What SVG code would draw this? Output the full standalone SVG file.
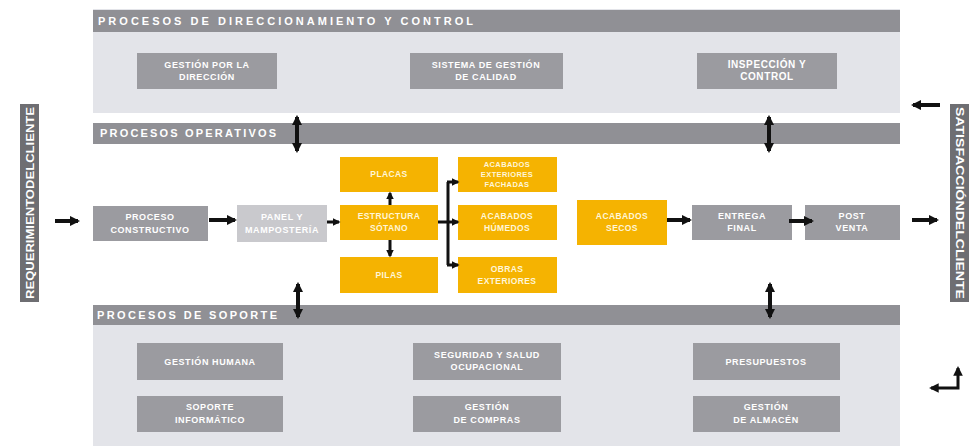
<svg xmlns="http://www.w3.org/2000/svg" width="977" height="446" viewBox="0 0 977 446">
<style>
.panel{fill:#e3e4e9}
.bar{fill:#909095}
.box{fill:#9b9ba0}
.lbox{fill:#c9c9cd}
.obox{fill:#f5b301}
.vbar{fill:#6e6e72}
.ht{font-family:"Liberation Sans",Arial,sans-serif;font-size:11px;font-weight:bold;fill:#ffffff}
.t{font-family:"Liberation Sans",Arial,sans-serif;font-size:9px;font-weight:bold;fill:#ffffff;text-anchor:middle;letter-spacing:0.6px}
.ot{font-family:"Liberation Sans",Arial,sans-serif;font-size:8.5px;font-weight:bold;fill:#fff6d8;text-anchor:middle;letter-spacing:0.4px}
.vt{font-family:"Liberation Sans",Arial,sans-serif;font-size:10px;font-weight:bold;fill:#ffffff;text-anchor:middle}
.ln{stroke:#111;stroke-width:4;fill:none}
.ln2{stroke:#111;stroke-width:3;fill:none}
</style>
<defs>
<marker id="ah" viewBox="0 0 10 10" refX="8" refY="5" markerWidth="2.6" markerHeight="2.6" orient="auto-start-reverse">
<path d="M0,0 L10,5 L0,10 z" fill="#111"/>
</marker>
<marker id="ah2" viewBox="0 0 10 10" refX="8" refY="5" markerWidth="3.2" markerHeight="3.2" orient="auto-start-reverse">
<path d="M0,0 L10,5 L0,10 z" fill="#111"/>
</marker>
</defs>
<rect width="977" height="446" fill="#ffffff"/>

<g id="direccionamiento">
<rect class="panel" x="93" y="9" width="807" height="104"/>
<rect class="bar" x="93" y="10" width="807" height="22"/>
<text class="ht" x="98" y="25" textLength="375" lengthAdjust="spacing">PROCESOS DE DIRECCIONAMIENTO Y CONTROL</text>
</g>
<g id="gestion-direccion">
<rect class="box" x="137" y="53" width="140" height="36"/>
<text class="t" x="207" y="68">GESTIÓN POR LA</text>
<text class="t" x="207" y="80">DIRECCIÓN</text>
</g>
<g id="sistema-calidad">
<rect class="box" x="410" y="53" width="153" height="36"/>
<text class="t" x="486" y="68">SISTEMA DE GESTIÓN</text>
<text class="t" x="486" y="80">DE CALIDAD</text>
</g>
<g id="inspeccion">
<rect class="box" x="697" y="53" width="140" height="36"/>
<text class="t" x="767" y="68" style="font-size:10px">INSPECCIÓN  Y</text>
<text class="t" x="767" y="80" style="font-size:10px">CONTROL</text>
</g>

<g id="operativos">
<rect class="bar" x="93" y="123" width="807" height="21"/>
<text class="ht" x="100" y="137" textLength="176" lengthAdjust="spacing">PROCESOS OPERATIVOS</text>
</g>

<g id="soporte">
<rect class="panel" x="93" y="305" width="807" height="141"/>
<rect class="bar" x="93" y="305" width="807" height="20"/>
<text class="ht" x="97" y="319" textLength="180" lengthAdjust="spacing">PROCESOS DE SOPORTE</text>
</g>
<g id="gestion-humana">
<rect class="box" x="137" y="343" width="146" height="37"/>
<text class="t" x="210" y="365">GESTIÓN HUMANA</text>
</g>
<g id="seguridad">
<rect class="box" x="413" y="343" width="148" height="37"/>
<text class="t" x="487" y="358">SEGURIDAD Y SALUD</text>
<text class="t" x="487" y="370">OCUPACIONAL</text>
</g>
<g id="presupuestos">
<rect class="box" x="693" y="343" width="147" height="37"/>
<text class="t" x="766" y="365">PRESUPUESTOS</text>
</g>
<g id="soporte-informatico">
<rect class="box" x="137" y="396" width="146" height="36"/>
<text class="t" x="210" y="410">SOPORTE</text>
<text class="t" x="210" y="423">INFORMÁTICO</text>
</g>
<g id="gestion-compras">
<rect class="box" x="413" y="396" width="148" height="36"/>
<text class="t" x="487" y="410">GESTIÓN</text>
<text class="t" x="487" y="423">DE COMPRAS</text>
</g>
<g id="gestion-almacen">
<rect class="box" x="693" y="396" width="147" height="36"/>
<text class="t" x="766" y="410">GESTIÓN</text>
<text class="t" x="766" y="423">DE ALMACÉN</text>
</g>

<g id="requerimiento">
<rect class="vbar" x="20" y="104" width="19" height="198"/>
<text class="vt" transform="translate(33.5,203) rotate(-90)" textLength="192" lengthAdjust="spacingAndGlyphs">REQUERIMIENTODELCLIENTE</text>
</g>
<g id="satisfaccion">
<rect class="vbar" x="950" y="104" width="19" height="198"/>
<text class="vt" transform="translate(955.5,203) rotate(90)" textLength="192" lengthAdjust="spacingAndGlyphs">SATISFACCIÓNDELCLIENTE</text>
</g>

<g id="proceso-constructivo">
<rect class="box" x="93" y="206" width="115" height="35"/>
<text class="t" x="150" y="220">PROCESO</text>
<text class="t" x="150" y="233">CONSTRUCTIVO</text>
</g>
<g id="panel-mamposteria">
<rect class="lbox" x="237" y="205" width="90" height="37"/>
<text class="t" x="282" y="220">PANEL Y</text>
<text class="t" x="282" y="233">MAMPOSTERÍA</text>
</g>
<g id="estructura">
<rect class="obox" x="340" y="205" width="98" height="35"/>
<text class="ot" x="389" y="219">ESTRUCTURA</text>
<text class="ot" x="389" y="231">SÓTANO</text>
</g>
<g id="placas">
<rect class="obox" x="340" y="157" width="98" height="35"/>
<text class="ot" x="389" y="177">PLACAS</text>
</g>
<g id="pilas">
<rect class="obox" x="340" y="257" width="98" height="36"/>
<text class="ot" x="389" y="278">PILAS</text>
</g>
<g id="acabados-exteriores">
<rect class="obox" x="458" y="157" width="99" height="35"/>
<text class="ot" x="507" y="167" style="font-size:7.5px">ACABADOS</text>
<text class="ot" x="507" y="177" style="font-size:7.5px">EXTERIORES</text>
<text class="ot" x="507" y="187" style="font-size:7.5px">FACHADAS</text>
</g>
<g id="acabados-humedos">
<rect class="obox" x="458" y="205" width="99" height="35"/>
<text class="ot" x="507" y="219">ACABADOS</text>
<text class="ot" x="507" y="231">HÚMEDOS</text>
</g>
<g id="obras-exteriores">
<rect class="obox" x="458" y="257" width="99" height="36"/>
<text class="ot" x="507" y="272">OBRAS</text>
<text class="ot" x="507" y="284">EXTERIORES</text>
</g>
<g id="acabados-secos">
<rect class="obox" x="577" y="200" width="90" height="45"/>
<text class="ot" x="622" y="219">ACABADOS</text>
<text class="ot" x="622" y="231">SECOS</text>
</g>
<g id="entrega-final">
<rect class="box" x="692" y="205" width="100" height="35"/>
<text class="t" x="742" y="219">ENTREGA</text>
<text class="t" x="742" y="231">FINAL</text>
</g>
<g id="post-venta">
<rect class="box" x="805" y="205" width="95" height="35"/>
<text class="t" x="852" y="219">POST</text>
<text class="t" x="852" y="231">VENTA</text>
</g>

<g id="connectors">
<line class="ln" x1="55" y1="221" x2="78" y2="221" marker-end="url(#ah)"/>
<line class="ln" x1="209" y1="220" x2="235" y2="220" marker-end="url(#ah)"/>
<line class="ln2" x1="327" y1="222" x2="339" y2="222" marker-end="url(#ah)"/>
<line class="ln2" x1="390" y1="205" x2="390" y2="193" marker-end="url(#ah)"/>
<line class="ln2" x1="390" y1="240" x2="390" y2="256" marker-end="url(#ah)"/>
<line class="ln2" x1="438" y1="222" x2="448" y2="222"/>
<line class="ln2" x1="448" y1="182" x2="448" y2="265"/>
<line class="ln2" x1="447" y1="182" x2="458" y2="182" marker-end="url(#ah)"/>
<line class="ln2" x1="448" y1="222" x2="458" y2="222" marker-end="url(#ah)"/>
<line class="ln2" x1="447" y1="265" x2="458" y2="265" marker-end="url(#ah)"/>
<line class="ln" x1="667" y1="220" x2="690" y2="220" marker-end="url(#ah)"/>
<line class="ln" x1="789" y1="221" x2="812" y2="221" marker-end="url(#ah)"/>
<line class="ln" x1="912" y1="220" x2="937" y2="220" marker-end="url(#ah)"/>
<line class="ln" x1="940" y1="105" x2="913" y2="105" marker-end="url(#ah)"/>
<line class="ln" x1="297" y1="117" x2="297" y2="151" marker-start="url(#ah)" marker-end="url(#ah)"/>
<line class="ln" x1="769" y1="117" x2="769" y2="151" marker-start="url(#ah)" marker-end="url(#ah)"/>
<line class="ln" x1="298" y1="284" x2="298" y2="317" marker-start="url(#ah)" marker-end="url(#ah)"/>
<line class="ln" x1="770" y1="284" x2="770" y2="317" marker-start="url(#ah)" marker-end="url(#ah)"/>
<polyline class="ln2" points="958,368 958,388 931,388" marker-start="url(#ah2)" marker-end="url(#ah2)"/>
</g>
</svg>
